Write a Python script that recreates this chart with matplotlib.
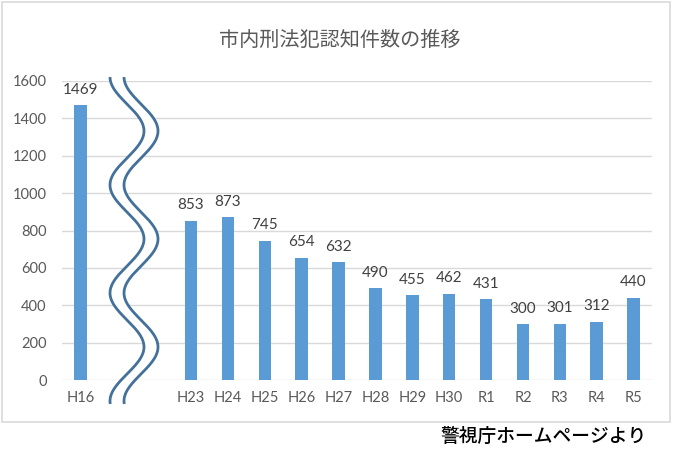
import numpy as np
import matplotlib
matplotlib.use("Agg")
import matplotlib.pyplot as plt
from matplotlib.patches import Rectangle
from matplotlib.lines import Line2D

# ---- data ----
categories = ["H16", "", "", "H23", "H24", "H25", "H26", "H27", "H28",
              "H29", "H30", "R1", "R2", "R3", "R4", "R5"]
values = [1469, np.nan, np.nan, 853, 873, 745, 654, 632, 490,
          455, 462, 431, 300, 301, 312, 440]
yticks = [0, 200, 400, 600, 800, 1000, 1200, 1400, 1600]
title = "市内刑法犯認知件数の推移"
source = "警視庁ホームページより"

W, H = 690, 458
fig = plt.figure(figsize=(W / 100, H / 100), dpi=100)
fig.patch.set_facecolor("white")

def fx(px):
    return px / W

def fy(py):
    return 1 - py / H

ax = fig.add_axes([fx(62), fy(380), fx(652) - fx(62), fy(81) - fy(380)])
x = np.arange(len(categories))
bars = ax.bar(x, values, width=0.34, color="#5B9BD5", zorder=3)
ax.set_xlim(-0.5, len(categories) - 0.5)
ax.set_ylim(0, 1600)
ax.set_yticks(yticks)
ax.set_yticklabels([str(v) for v in yticks])
ax.set_xticks(x)
ax.set_xticklabels(categories)
for s in ax.spines.values():
    s.set_visible(False)
ax.grid(axis="y", color="#D9D9D9", linewidth=1, zorder=0)
ax.tick_params(length=0, labelsize=10.5, labelcolor="#595959", pad=8)
ax.tick_params(axis="y", pad=11)
for lab in ax.get_xticklabels() + ax.get_yticklabels():
    lab.set_family("Lato")

labels = ["" if np.isnan(v) else str(int(v)) for v in values]
ax.bar_label(bars, labels=labels, padding=6, fontsize=11, color="#404040",
             family="Lato")

# title
fig.text(fx(340), fy(40), title, ha="center", va="center", fontsize=14.5,
         color="#595959", family=["Noto Sans CJK JP", "DejaVu Sans"])

# wavy break marks (decoration)
yy = np.linspace(77, 404, 400)
xx = 127 - 17 * np.cos(2 * np.pi * (yy - 77) / 108)
ax.fill_betweenx(fy(yy), fx(xx), fx(xx + 14), color="white",
                 transform=fig.transFigure, clip_on=False, zorder=4)
for off in (0, 14):
    fig.add_artist(Line2D(fx(xx + off), fy(yy), color="#44719A", linewidth=2.0,
                          transform=fig.transFigure, zorder=5,
                          solid_capstyle="butt"))

# chart border
fig.add_artist(Rectangle((fx(2), fy(422)), fx(670) - fx(2), fy(2) - fy(422),
                         fill=False, edgecolor="#D9D9D9", linewidth=1.2,
                         transform=fig.transFigure))

# source
fig.text(fx(544), fy(437), source, ha="center", va="center", fontsize=13.5,
         color="black", fontweight="medium",
         family=["Noto Sans CJK JP", "DejaVu Sans"])

fig.savefig("out.png", dpi=100, facecolor="white")
